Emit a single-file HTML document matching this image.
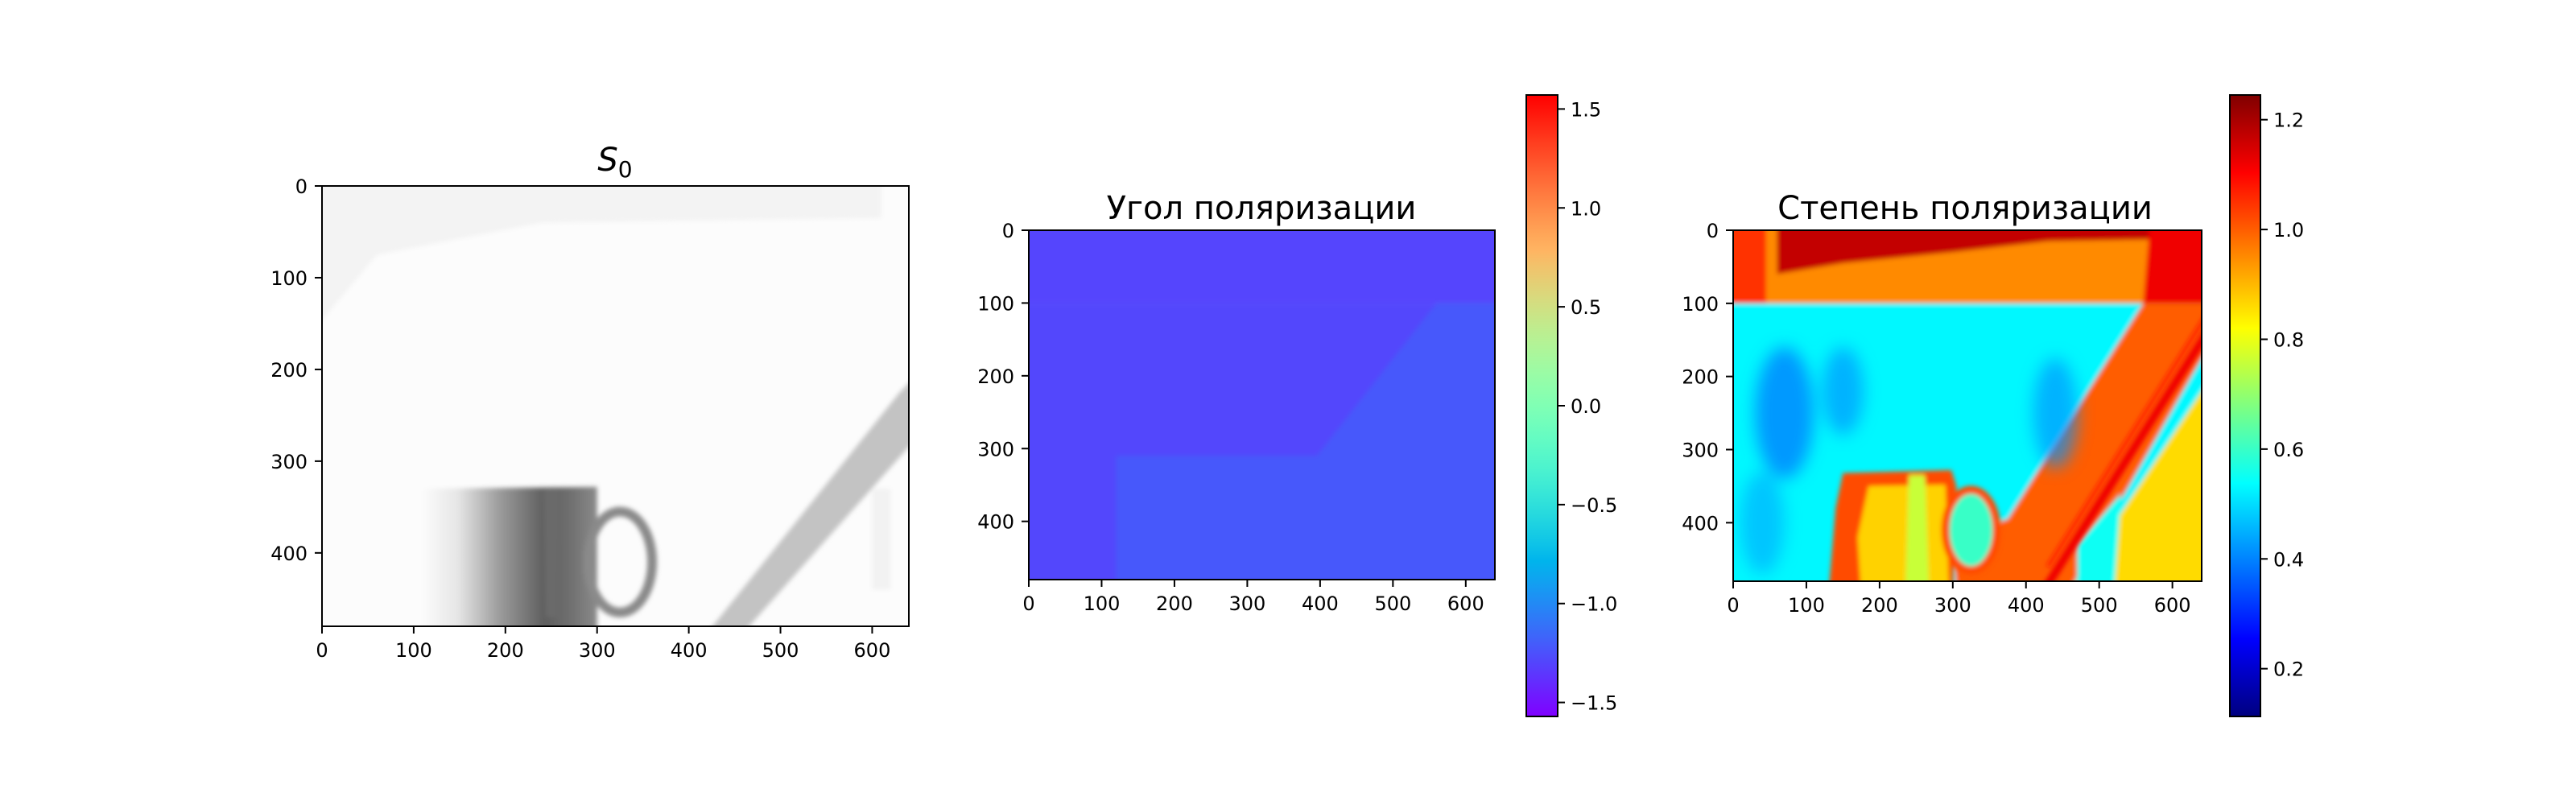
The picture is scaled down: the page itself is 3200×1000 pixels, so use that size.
<!DOCTYPE html>
<html><head><meta charset="utf-8"><style>
html,body{margin:0;padding:0;background:#fff}
svg{display:block}
text{font-family:"DejaVu Sans","Liberation Sans",sans-serif;fill:#000}
</style></head><body>
<svg id="fig" width="3200" height="1000" xmlns="http://www.w3.org/2000/svg">
<defs>
<filter id="soft" x="-20%" y="-20%" width="140%" height="140%"><feGaussianBlur stdDeviation="10"/></filter>
<filter id="soft2" x="-5%" y="-5%" width="110%" height="110%"><feGaussianBlur stdDeviation="3"/></filter>
</defs>
</svg>
<script>
// ---- data (image pixel coordinates, values; regions extend past edges for blur) ----
const xTicks = [0,100,200,300,400,500,600];
const yTicks = [0,100,200,300,400];
const angleTicks = [-1.5,-1.0,-0.5,0.0,0.5,1.0,1.5];
const degreeTicks = [0.2,0.4,0.6,0.8,1.0,1.2];
const angleRange = [-1.5708,1.5708];
const degreeRange = [0.113,1.245];
// S0 panel regions: [polygon points], gray level
const s0Regions = [
  [[[-20,-20],[610,-20],[610,35],[240,40],[60,75],[-20,170]],243],
  [[[660,195],[660,262],[448,500],[410,500],[630,225]],195],
  [[[600,330],[620,330],[620,440],[600,440]],242]
];
// angle panel regions: polygon, value
const angleRegions = [
  [[[-20,-20],[660,-20],[660,100],[-20,100]],-1.30],
  [[[-20,100],[660,100],[660,500],[-20,500]],-1.29],
  [[[120,310],[460,310],[470,500],[120,500]],-1.22],
  [[[560,100],[660,100],[660,500],[470,500],[380,330]],-1.22]
];
// degree panel regions: polygon, value
const degreeRegions = [
  [[[-20,-20],[660,-20],[660,100],[-20,100]],0.95],
  [[[-20,-20],[45,-20],[45,100],[-20,100]],1.05],
  [[[60,-20],[610,-20],[610,12],[430,15],[300,30],[150,45],[60,60]],1.17],
  [[[570,-20],[660,-20],[660,100],[560,100]],1.12],
  [[[-20,100],[660,100],[660,500],[-20,500]],0.53],
  [[[560,100],[660,100],[660,140],[455,500],[305,500],[300,420],[375,395]],1.0],
  [[[660,190],[660,500],[455,500]],0.86],
  [[[470,430],[530,360],[520,500],[470,500]],0.55]
];
const degreeBlobs = [[70,250,40,90,0.38],[150,220,28,60,0.42],[440,250,30,75,0.42],[40,400,30,70,0.45]];
const degreeLines = [[[660,120],[420,500],10,1.12],[[660,95],[430,460],4,1.08]];
const mugBody = [[150,332],[298,328],[305,350],[300,500],[130,500],[140,380]];
const mugInner = [[185,350],[290,348],[295,500],[175,500],[170,420]];
const mugStripe = [[240,335],[262,335],[268,500],[235,500]];
const mugHandle = [325,410,35,55];

const NS="http://www.w3.org/2000/svg";
const fig=document.getElementById('fig');
function el(tag,attrs,parent){const e=document.createElementNS(NS,tag);for(const k in attrs)e.setAttribute(k,attrs[k]);(parent||fig).appendChild(e);return e;}
const cl=v=>Math.max(0,Math.min(1,v));
function jet(x){return `rgb(${Math.round(255*cl(1.5-Math.abs(4*x-3)))},${Math.round(255*cl(1.5-Math.abs(4*x-2)))},${Math.round(255*cl(1.5-Math.abs(4*x-1)))})`;}
function rainbow(x){return `rgb(${Math.round(255*Math.abs(2*x-0.5))},${Math.round(255*Math.sin(Math.PI*x))},${Math.round(255*Math.cos(Math.PI*x/2))})`;}

function makeAxes(L,T,W,H,name){
  const sx=x=>L+x/640*W, sy=y=>T+y/480*H;
  const g=el('g',{});
  
  
  const clip=el('clipPath',{id:name+'-clip'},g);
  el('rect',{x:L,y:T,width:W,height:H},clip);
  const img=el('g',{'clip-path':`url(#${name}-clip)`},g);
  
  
  return {sx,sy,g,img,L,T,W,H,name};
}
function pts(a,p){return p.map(q=>a.sx(q[0])+','+a.sy(q[1])).join(' ');}
function finishAxes(a){
  el('rect',{x:a.L,y:a.T,width:a.W,height:a.H,fill:'none',stroke:'#000','stroke-width':2},a.g);
  xTicks.forEach(t=>{const x=a.sx(t);
    el('line',{x1:x,y1:a.T+a.H,x2:x,y2:a.T+a.H+9,stroke:'#000','stroke-width':2},a.g);
    const tx=el('text',{x:x,y:a.T+a.H+38,'font-size':24,'text-anchor':'middle'},a.g);tx.textContent=t;
    
    });
  yTicks.forEach(t=>{const y=a.sy(t);
    el('line',{x1:a.L-9,y1:y,x2:a.L,y2:y,stroke:'#000','stroke-width':2},a.g);
    const tx=el('text',{x:a.L-18,y:y+9,'font-size':24,'text-anchor':'end'},a.g);tx.textContent=t;
    
    });
}
function colorbar(L,T,W,H,cmap,range,ticks,name){
  const id=name+'-grad';
  const lg=el('linearGradient',{id,x1:0,y1:1,x2:0,y2:0});
  for(let i=0;i<=40;i++)el('stop',{offset:i/40,'stop-color':cmap(i/40)},lg);
  const g=el('g',{});
  
  
  el('rect',{x:L,y:T,width:W,height:H,fill:`url(#${id})`,stroke:'#000','stroke-width':2},g);
  const sy=v=>T+H-(v-range[0])/(range[1]-range[0])*H;
  ticks.forEach(t=>{const y=sy(t);
    el('line',{x1:L+W,y1:y,x2:L+W+9,y2:y,stroke:'#000','stroke-width':2},g);
    const tx=el('text',{x:L+W+16,y:y+9,'font-size':24},g);
    tx.textContent=(t<0?'\u2212':'')+Math.abs(t).toFixed(1);
    
    });
}
function title(x,y,txt,name,html){const t=el('text',{x,y,'font-size':40,'text-anchor':'middle'});
  if(html){t.innerHTML=html;}else t.textContent=txt;
  
  }

// ---- Panel 1: S0 ----
const a1=makeAxes(400,231,729,547,'s0-axes');
el('rect',{x:a1.L,y:a1.T,width:a1.W,height:a1.H,fill:'#fcfcfc'},a1.img);
const s1=el('g',{filter:'url(#soft2)'},a1.img);
s0Regions.forEach(r=>{const c=r[1];el('polygon',{points:pts(a1,r[0]),fill:`rgb(${c},${c},${c})`},s1);});
const mg=el('linearGradient',{id:'mugg',x1:0,y1:0,x2:1,y2:0});
[[0,'#fbfbfb'],[0.2,'#e6e6e6'],[0.45,'#999'],[0.7,'#5e5e5e'],[0.85,'#707070'],[1,'#8a8a8a']].forEach(s=>el('stop',{offset:s[0],'stop-color':s[1]},mg));
el('polygon',{points:pts(a1,[[110,330],[300,328],[300,500],[110,500]]),fill:'url(#mugg)'},s1);
el('polygon',{points:pts(a1,[[242,330],[258,330],[256,470],[244,470]]),fill:'#6a6a6a'},s1);
el('ellipse',{cx:a1.sx(mugHandle[0]),cy:a1.sy(mugHandle[1]),rx:mugHandle[2]/640*a1.W,ry:mugHandle[3]/480*a1.H,fill:'none',stroke:'#8a8a8a','stroke-width':12},s1);
finishAxes(a1);
title(764,212,'','s0-title','<tspan font-style="italic">S</tspan><tspan font-size="28" dy="8">0</tspan>');

// ---- Panel 2: angle ----
const a2=makeAxes(1278,286,579,434,'angle-axes');
const nA=v=>(v-angleRange[0])/(angleRange[1]-angleRange[0]);
const s2=el('g',{filter:'url(#soft2)'},a2.img);
angleRegions.forEach(r=>el('polygon',{points:pts(a2,r[0]),fill:rainbow(nA(r[1]))},s2));
finishAxes(a2);
title(1567,272,'Угол поляризации','angle-title');
colorbar(1896,118,39,772,rainbow,angleRange,angleTicks,'angle-colorbar');

// ---- Panel 3: degree ----
const a3=makeAxes(2153,286,582,436,'degree-axes');
const nD=v=>(v-degreeRange[0])/(degreeRange[1]-degreeRange[0]);
const s3=el('g',{filter:'url(#soft2)'},a3.img);
degreeRegions.forEach(r=>el('polygon',{points:pts(a3,r[0]),fill:jet(nD(r[1]))},s3));
const bl=el('g',{filter:'url(#soft)'},a3.img);
degreeBlobs.forEach(b=>el('ellipse',{cx:a3.sx(b[0]),cy:a3.sy(b[1]),rx:b[2]/640*a3.W,ry:b[3]/480*a3.H,fill:jet(nD(b[4])),opacity:0.7},bl));
const s4=el('g',{filter:'url(#soft2)'},a3.img);
degreeLines.forEach(l=>el('line',{x1:a3.sx(l[0][0]),y1:a3.sy(l[0][1]),x2:a3.sx(l[1][0]),y2:a3.sy(l[1][1]),stroke:jet(nD(l[3])),'stroke-width':l[2]},s4));
el('polygon',{points:pts(a3,mugBody),fill:jet(nD(1.02))},s4);
el('polygon',{points:pts(a3,mugInner),fill:jet(nD(0.87))},s4);
el('polygon',{points:pts(a3,mugStripe),fill:jet(nD(0.76))},s4);
el('ellipse',{cx:a3.sx(mugHandle[0]),cy:a3.sy(mugHandle[1]),rx:mugHandle[2]/640*a3.W,ry:mugHandle[3]/480*a3.H,fill:jet(nD(0.6)),stroke:jet(nD(1.02)),'stroke-width':10},s4);
finishAxes(a3);
title(2441,272,'Степень поляризации','degree-title');
colorbar(2770,118,38,772,jet,degreeRange,degreeTicks,'degree-colorbar');
</script>
</body></html>
